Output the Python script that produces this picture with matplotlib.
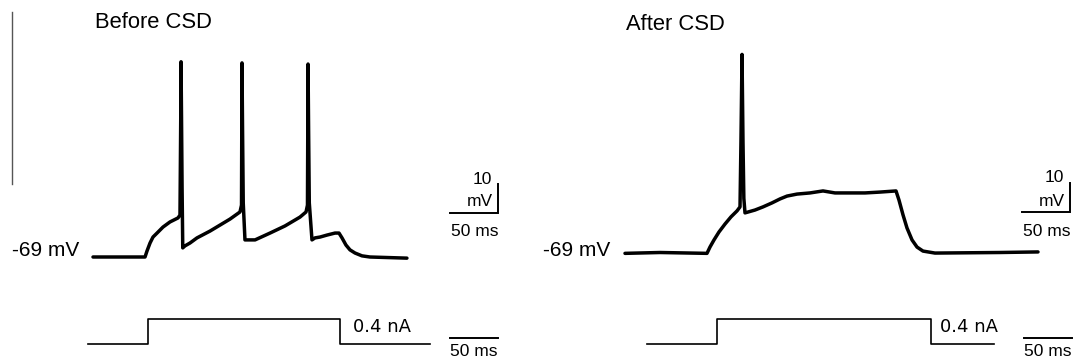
import matplotlib
matplotlib.use("Agg")
import matplotlib.pyplot as plt
from matplotlib.lines import Line2D

# ---------------- data (time in ms, voltage in mV, current in nA) ----------------
before_t = [0, 54.2, 56.25, 59.4, 62.5, 66.7, 72.9, 80.2, 88.5, 90.6, 91.4, 91.7, 92.2, 92.8, 93.5,
            95.8, 101, 108.3, 121.9, 132.3, 142.7, 153.1, 154.7, 155.2, 155.8, 156.5, 158.3,
            168.8, 184.4, 200, 215.6, 221.9, 223.4, 224.0, 224.6, 225.3, 228.1,
            231.25, 236.5, 243.8, 252.1, 256.25, 259.4, 263.5, 267.7, 272.9, 280.2, 288.5, 327]
before_v = [-69, -69, -66.9, -64.1, -62.0, -60.6, -58.5, -56.7, -55.3, -54.3, -20, -0.5, -20, -45, -65.8,
            -65.1, -64.1, -62.3, -59.9, -57.8, -55.7, -53.2, -50.8, -0.9, -25, -50, -63.0,
            -63.0, -60.6, -58.1, -55.0, -53.2, -50.8, -1.3, -25, -50, -63.0,
            -62.3, -62.0, -61.3, -60.6, -60.6, -62.3, -64.8, -66.5, -67.6, -68.6, -69, -69.4]

after_t = [0, 36.5, 85.4, 88.5, 92.7, 97.9, 104.2, 110.4, 116.7, 119.8, 120.8, 121.9, 122.9, 123.8, 125,
           135.4, 143.75, 153.1, 161.5, 168.8, 179.2, 192.7, 206.25, 218.75, 234.4, 250, 265.6, 282.3,
           285.4, 289.6, 293.75, 299, 304.2, 310.4, 322.9, 390.6, 430.2]
after_v = [-69.3, -69, -69.3, -67.1, -64.6, -61.8, -59.0, -56.5, -54.4, -53.0, -30, 0.5, -30, -50, -55.1,
           -54.1, -53.0, -51.6, -50.2, -49.2, -48.5, -48.1, -47.4, -48.1, -48.1, -48.1, -47.8, -47.4,
           -50.6, -55.8, -60.4, -64.6, -67.1, -68.5, -69.2, -69, -68.8]

before_step_t = [-5.2, 57.3, 57.3, 257.3, 257.3, 351]
before_step_i = [0, 0, 0.4, 0.4, 0, 0]
after_step_t = [22.9, 95.8, 95.8, 318.75, 318.75, 384.4]
after_step_i = [0, 0, 0.4, 0.4, 0, 0]

titles = ["Before CSD", "After CSD"]
rest_label = "-69 mV"
step_label = "0.4 nA"
bar_time = 50      # ms
bar_volt = 10      # mV

# ---------------- layout ----------------
W, H = 1075, 360
fig = plt.figure(figsize=(W / 100, H / 100), dpi=100)
plt.rcParams['font.family'] = ['Liberation Sans', 'DejaVu Sans']

SX = 0.96    # px per ms
SV = 2.85    # px per mV
SI = 62.5    # px per nA


def full_axes(x0_px, y0_px, val0, sy):
    ax = fig.add_axes([0, 0, 1, 1])
    ax.set_xlim((0 - x0_px) / SX, (W - x0_px) / SX)
    ax.set_ylim(val0 + (y0_px - H) / sy, val0 + y0_px / sy)
    ax.axis('off')
    ax.patch.set_alpha(0)
    return ax


def ftext(x, y, s, **kw):
    fig.text(x / W, 1 - y / H, s, **kw)


panels = [
    dict(t=before_t, v=before_v, st=before_step_t, si=before_step_i, x0=93, y0v=257, y0i=343.5,
         title_xy=(95, 22), rest_xy=(12, 251), step_xy=(353, 327),
         bar_end_px=498, bar_y_px=213, ibar_end_px=498, ibar_y_px=338),
    dict(t=after_t, v=after_v, st=after_step_t, si=after_step_i, x0=625, y0v=252.5, y0i=344,
         title_xy=(626, 24), rest_xy=(543, 250), step_xy=(940, 327),
         bar_end_px=1070, bar_y_px=212, ibar_end_px=1072, ibar_y_px=338),
]

for k, p in enumerate(panels):
    axv = full_axes(p['x0'], p['y0v'], -69, SV)
    axv.plot(p['t'], p['v'], color='black', lw=2.5, solid_joinstyle='round',
             solid_capstyle='round', clip_on=False)

    axi = full_axes(p['x0'], p['y0i'], 0, SI)
    axi.plot(p['st'], p['si'], color='black', lw=1.2, clip_on=False)

    # voltage scale bar
    te = (p['bar_end_px'] - p['x0']) / SX
    vb = -69 + (p['y0v'] - p['bar_y_px']) / SV
    axv.plot([te - bar_time, te, te], [vb, vb, vb + bar_volt], color='black', lw=1.4,
             solid_joinstyle='miter', clip_on=False)
    # current panel time bar
    tie = (p['ibar_end_px'] - p['x0']) / SX
    ib = (p['y0i'] - p['ibar_y_px']) / SI
    axi.plot([tie - bar_time, tie], [ib, ib], color='black', lw=1.4, clip_on=False)

    ex = p['bar_end_px']
    ftext(ex - 6, p['bar_y_px'] - 34, "10", ha='right', va='center', fontsize=12.5)
    ftext(ex - 5, p['bar_y_px'] - 11, "mV", ha='right', va='center', fontsize=12.5)
    ftext(ex - 23, p['bar_y_px'] + 19, "50 ms", ha='center', va='center', fontsize=12.5)
    ftext(p['ibar_end_px'] - 24, p['ibar_y_px'] + 14, "50 ms", ha='center', va='center', fontsize=12.5)

    ftext(*p['title_xy'], titles[k], ha='left', va='center', fontsize=15.8)
    ftext(*p['rest_xy'], rest_label, ha='left', va='center', fontsize=15)
    ftext(*p['step_xy'], step_label, ha='left', va='center', fontsize=13, family='DejaVu Sans')

# thin grey vertical line at far left
fig.add_artist(Line2D([12 / W, 12 / W], [1 - 12 / H, 1 - 184 / H], color='#555555', lw=1.0,
                      transform=fig.transFigure))

fig.savefig("out.png", dpi=100, facecolor='white')
